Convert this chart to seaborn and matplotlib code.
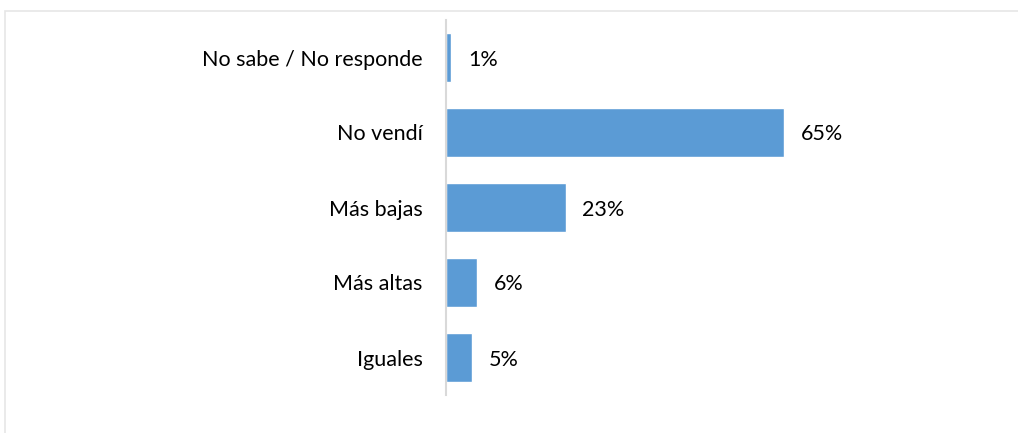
import matplotlib
matplotlib.use("Agg")
import matplotlib.pyplot as plt
import seaborn as sns
import pandas as pd
from matplotlib.patches import Rectangle

# chart data
categories = ["No sabe / No responde", "No vendí", "Más bajas", "Más altas", "Iguales"]
values = [1, 65, 23, 6, 5]
labels = ["1%", "65%", "23%", "6%", "5%"]

sns.set_style("white")
plt.rcParams['font.family'] = ['Lato', 'DejaVu Sans']

df = pd.DataFrame({"cat": categories, "val": values})

fig = plt.figure(figsize=(10.18, 4.33), dpi=100)
ax = fig.add_axes([446 / 1018, 38 / 433, 520 / 1018, 375 / 433])

sns.barplot(data=df, x="val", y="cat", orient="h", color="#5B9BD5",
            saturation=1, width=0.65, ax=ax)

ax.set_xlim(0, 100)
ax.set_ylim(4.5, -0.5)
ax.set_xlabel("")
ax.set_ylabel("")
ax.set_xticks([])
for side in ["top", "right", "bottom"]:
    ax.spines[side].set_visible(False)
ax.spines["left"].set_color("#D9D9D9")
ax.spines["left"].set_linewidth(1.5)
ax.tick_params(axis="y", length=0, pad=17, labelsize=15.5, labelcolor="#000000")
for t in ax.get_yticklabels():
    t.set_verticalalignment("center_baseline")

for i, (v, lab) in enumerate(zip(values, labels)):
    ax.annotate(lab, xy=(v, i), xytext=(12, 0), textcoords="offset points",
                va="center_baseline", ha="left", fontsize=15.5, color="#000000")

# light outer border like the original chart frame (open on right and bottom)
fig.patches.append(Rectangle((5 / 1018, -0.1), 1.2, 1.1 + (433 - 11) / 433 - 1 + 0.0,
                             transform=fig.transFigure, fill=False,
                             edgecolor="#E6E6E6", linewidth=1.2))

fig.savefig("out.png", dpi=100)
